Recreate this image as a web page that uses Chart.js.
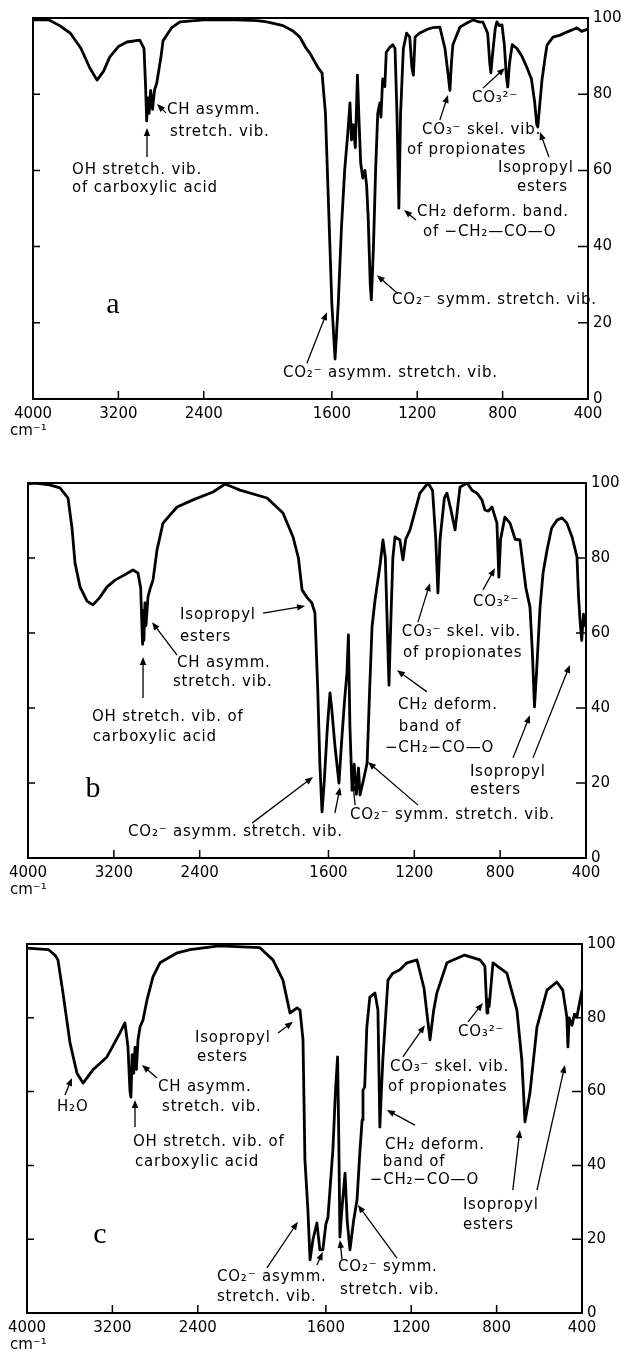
<!DOCTYPE html>
<html lang="en">
<head>
<meta charset="UTF-8">
<title>IR spectra a, b, c</title>
<style>
    body { margin: 0; background: #fff; }
    .page { position: relative; width: 625px; height: 1358px; overflow: hidden; background: #fff; }
    .page canvas { position: absolute; left: 0; }
</style>
</head>
<body>
<div class="page">
    <canvas id="specA" width="625" height="455" style="top:0px"></canvas>
    <canvas id="specB" width="625" height="449" style="top:465px"></canvas>
    <canvas id="specC" width="625" height="432" style="top:926px"></canvas>
</div>

<script src="https://cdn.jsdelivr.net/npm/chart.js"></script>
<script>
// ---- spectrum a: wavenumber (cm-1) / transmittance (%) ----
const waveA = [4000,3850,3750,3650,3550,3470,3400,3340,3280,3200,
    3120,3000,2960,2945,2935,2925,2912,2898,2880,2862,
    2840,2800,2782,2700,2623,2400,2100,1950,1904,1829,
    1780,1750,1720,1703,1680,1665,1646,1630,1615,1600,
    1585,1570,1555,1540,1525,1515,1508,1500,1490,1480,
    1474,1465,1455,1445,1437,1430,1420,1415,1405,1395,
    1385,1375,1370,1362,1352,1345,1330,1315,1304,1295,
    1286,1278,1265,1250,1235,1225,1218,1210,1190,1154,
    1126,1094,1070,1055,1047,1040,1033,1000,967,939,
    910,892,870,860,855,848,835,827,815,803,
    792,782,776,768,755,733,710,686,665,650,
    640,635,628,615,600,592,564,530,499,470,
    452,430,405,400];
const transA = [99.5,99.5,98,96,92,87,83.7,86,89.8,92.5,
    93.7,94.2,92,82,73,79,75,81,76,81,
    83,90,94,97.5,99,99.5,99.5,99.3,99,98,
    96.5,95,92,90.8,88.5,87,85.6,75,50,25,
    10.5,25,45,60,70,77.7,68,72,66,85,
    75,62,58,60,56,48,30,26,40,60,
    75,77.7,74,84,82,91,92.2,93,92,75,
    50.1,75,92,96,95,87,85,95,96,97,
    97.5,97.6,92,85,81,88,93,97.6,98.7,99.5,
    99,98.9,96,88,85.6,90,97,99,98,98.2,
    93,84.5,81.9,88,93,92,90,87,84,78,
    72,71.4,76,84,90,92.9,95,95.5,96.3,97,
    97.4,96.5,97,97];

// ---- spectrum b ----
const waveB = [4000,3935,3800,3702,3627,3590,3562,3515,3450,3394,
    3330,3264,3189,3100,3022,2975,2950,2938,2932,2928,
    2920,2910,2900,2882,2860,2835,2798,2742,2611,2462,
    2276,2164,2100,2025,1886,1812,1765,1740,1723,1700,
    1677,1663,1650,1640,1630,1620,1605,1593,1585,1570,
    1551,1540,1525,1514,1507,1500,1490,1480,1470,1460,
    1453,1440,1420,1408,1397,1383,1360,1346,1335,1325,
    1318,1310,1300,1290,1267,1253,1240,1220,1174,1136,
    1115,1100,1090,1080,1060,1048,1030,1010,995,987,
    954,930,908,885,871,855,838,815,806,798,
    778,754,730,708,680,661,650,640,630,614,
    600,582,560,535,512,489,465,442,435,428,
    420,412,405,400];
const transB = [99.8,100,99.5,98.7,96,88,78.7,72.3,68.5,67.5,
    69.5,72.3,74.1,75.5,76.8,76,72,61.6,57,66,
    58,68,62,69.6,72,74.1,82.1,89.3,93.6,95.5,
    97.6,99.7,99,98.1,96,92,85.6,80,71.5,69.5,
    68,65.3,45,25,12.3,20,35,44,40,30,
    20,30,42,49.3,59.5,35,18.1,25,17,24,
    16.8,20,25.3,45,61.6,68.8,78,84.8,80,60,
    46.1,62,80,85.6,84.8,79.5,85,87.5,97.3,100,
    98,85,70.7,85,96,97.3,93,87.5,95,98.9,
    100,98,97.3,95.5,92.8,92.5,93.6,89.3,74.9,85,
    90.9,89.3,85,84.8,72,66.9,55,40.3,50,67,
    76,82,88,90.1,90.7,89.3,85.6,80.3,70,63.5,
    58,65,62,63];

// ---- spectrum c ----
const waveC = [4000,3800,3738,3710,3663,3597,3532,3475,3382,3251,
    3129,3082,3054,3035,3026,3015,3000,2988,2975,2960,
    2941,2913,2876,2820,2754,2600,2473,2200,1909,1848,
    1801,1768,1735,1721,1707,1698,1684,1674,1660,1642,
    1628,1614,1600,1590,1567,1555,1545,1540,1534,1525,
    1510,1500,1487,1470,1454,1440,1430,1426,1418,1408,
    1394,1370,1356,1347,1340,1333,1309,1286,1253,1220,
    1173,1140,1112,1095,1080,1033,950,878,855,845,
    841,835,817,752,705,682,667,644,611,564,
    518,490,471,466,460,447,435,424,400];
const transC = [98.9,98.5,97,95.7,86.7,73.2,65,62.3,65.9,69.4,
    75.9,78.6,72.1,60,58.5,70,65,72,66,74,
    77.5,79.4,84.8,91.1,94.9,97.5,98.5,99.5,99,95.7,
    90.2,81.3,82.7,82.1,74,41.5,27.9,14.4,20,24.4,
    17.1,17.1,24,26,44.2,60,69.4,50,20.6,28,
    37.9,25,17.1,25,30.6,44.2,52.3,60.4,61.2,77.5,
    85.6,86.7,82.1,50.4,60,68.6,90.2,92.1,93,94.9,
    95.7,88,74,82,86.7,94.9,97,95.7,94,81.3,
    85,83,94.9,92.1,82.1,68.6,51.8,59.6,77.5,87.5,
    89.7,87.5,80.2,72.1,80,78,81,80.2,87.5];

// axis ticks
const xTickWaves = [4000, 3200, 2400, 1600, 1200, 800, 400];
const xTickLabels = ['4000', '3200', '2400', '1600', '1200', '800', '400'];
const yTickValues = [0, 20, 40, 60, 80, 100];

// labels: [text, wavenumber, %T of the text's left/middle]; arrows: [w1, t1, w2 (head), t2]
const notesA = {
    labels: [
        ['OH stretch. vib.', 3634, 60.1], ['of carboxylic acid', 3634, 55.4],
        ['CH asymm.', 2745, 75.9], ['stretch. vib.', 2717, 70.1],
        ['CO₂⁻ asymm. stretch. vib.', 1829, 6.8],
        ['CO₂⁻ symm. stretch. vib.', 1318, 26],
        ['CH₂ deform. band.', 1201, 49.1], ['of −CH₂—CO—O', 1173, 43.8],
        ['CO₃⁻ skel. vib.', 1178, 70.6], ['of propionates', 1248, 65.4],
        ['CO₃²⁻', 944, 79],
        ['Isopropyl', 822, 60.6], ['esters', 733, 55.6]
    ],
    arrows: [
        [2932, 63.5, 2932, 71.1], [2754, 75.1, 2838, 77.4], [1717, 9.4, 1623, 22.8],
        [1290, 27.6, 1389, 32.5], [1206, 47, 1262, 49.6], [1094, 73.2, 1056, 79.8],
        [892, 81.6, 789, 86.9], [583, 63.5, 625, 70.1]
    ],
    letter: ['a', 3251, 22.6]
};
const notesB = {
    labels: [
        ['Isopropyl', 2583, 64.8], ['esters', 2583, 58.9],
        ['CH asymm.', 2611, 52], ['stretch. vib.', 2649, 46.9],
        ['OH stretch. vib. of', 3404, 37.6], ['carboxylic acid', 3396, 32.3],
        ['CO₂⁻ asymm. stretch. vib.', 3068, 6.9],
        ['CO₂⁻ symm. stretch. vib.', 1500, 11.5],
        ['CH₂ deform.', 1276, 40.8], ['band of', 1272, 34.9], ['−CH₂−CO—O', 1337, 29.3],
        ['CO₃⁻ skel. vib.', 1258, 60.3], ['of propionates', 1253, 54.7],
        ['CO₃²⁻', 927, 68.3],
        ['Isopropyl', 941, 22.9], ['esters', 941, 18.1]
    ],
    arrows: [
        [1905, 65.3, 1709, 67.2], [2611, 54.1, 2844, 62.9], [2928, 42.7, 2928, 53.6],
        [1956, 9.3, 1672, 21.6], [1570, 12, 1546, 18.9], [1476, 14.1, 1486, 20],
        [1183, 14.1, 1416, 25.6], [1141, 44.3, 1281, 50.1], [1183, 62.9, 1127, 73.3],
        [880, 71.5, 824, 77.3], [740, 26.7, 661, 38.1], [647, 26.7, 475, 51.5]
    ],
    letter: ['b', 3394, 16.3]
};
const notesC = {
    labels: [
        ['H₂O', 3719, 55.8],
        ['CH asymm.', 2773, 61.2], ['stretch. vib.', 2735, 55.8],
        ['OH stretch. vib. of', 3007, 46.3], ['carboxylic acid', 2988, 40.9],
        ['Isopropyl', 2426, 74.5], ['esters', 2407, 69.4],
        ['CO₂⁻ asymm.', 2220, 9.8], ['stretch. vib.', 2220, 4.3],
        ['CO₂⁻ symm.', 1543, 12.5], ['stretch. vib.', 1534, 6.2],
        ['CH₂ deform.', 1323, 45.5], ['band of', 1333, 40.9], ['−CH₂−CO—O', 1394, 36],
        ['CO₃⁻ skel. vib.', 1300, 66.7], ['of propionates', 1309, 61.2],
        ['CO₃²⁻', 981, 76.2],
        ['Isopropyl', 958, 29.3], ['esters', 958, 23.8]
    ],
    arrows: [
        [3644, 59.1, 3578, 63.7], [2782, 63.7, 2923, 67.2], [2988, 50.4, 2988, 57.7],
        [1824, 75.9, 1754, 78.9], [1876, 12.2, 1731, 24.7], [1642, 13, 1614, 16.5],
        [1524, 14.4, 1534, 19.8], [1267, 14.9, 1450, 29.3], [1183, 50.9, 1314, 55],
        [1239, 69.4, 1136, 78], [934, 78.9, 864, 84], [724, 33.3, 691, 49.6],
        [611, 33.3, 480, 67.2]
    ],
    letter: ['c', 3316, 19]
};

// the abscissa doubles its scale below 2000 cm-1
function toAxis(w) {
    return w >= 2000 ? (4000 - w) / 800 : 2.5 + (2000 - w) / 400;
}

const FONT = '"DejaVu Sans", sans-serif';

function drawArrow(ctx, x1, y1, x2, y2) {
    const ang = Math.atan2(y2 - y1, x2 - x1);
    ctx.beginPath();
    ctx.moveTo(x1, y1);
    ctx.lineTo(x2 - 5 * Math.cos(ang), y2 - 5 * Math.sin(ang));
    ctx.stroke();
    ctx.beginPath();
    ctx.moveTo(x2, y2);
    ctx.lineTo(x2 - 8 * Math.cos(ang) + 3.2 * Math.sin(ang), y2 - 8 * Math.sin(ang) - 3.2 * Math.cos(ang));
    ctx.lineTo(x2 - 8 * Math.cos(ang) - 3.2 * Math.sin(ang), y2 - 8 * Math.sin(ang) + 3.2 * Math.cos(ang));
    ctx.closePath();
    ctx.fill();
}

function decorPlugin(notes) {
    return {
        id: 'decor',
        afterDatasetsDraw(chart) {
            const { ctx, chartArea: a, scales: { x, y } } = chart;
            const px = w => x.getPixelForValue(toAxis(w));
            const py = t => y.getPixelForValue(t);
            ctx.save();
            ctx.strokeStyle = '#000';
            ctx.fillStyle = '#000';

            // frame
            ctx.lineWidth = 2;
            ctx.strokeRect(a.left, a.top, a.right - a.left, a.bottom - a.top);

            // inward tick marks
            ctx.lineWidth = 1.5;
            ctx.beginPath();
            yTickValues.slice(1, -1).forEach(v => {
                ctx.moveTo(a.left, py(v)); ctx.lineTo(a.left + 7, py(v));
                ctx.moveTo(a.right, py(v)); ctx.lineTo(a.right - 10, py(v));
            });
            xTickWaves.slice(1, -1).forEach(w => {
                ctx.moveTo(px(w), a.bottom); ctx.lineTo(px(w), a.bottom - 8);
            });
            ctx.stroke();

            // band assignments
            ctx.font = '15px ' + FONT;
            ctx.letterSpacing = '0.8px';
            ctx.textBaseline = 'middle';
            ctx.textAlign = 'left';
            notes.labels.forEach(([t, w, v]) => ctx.fillText(t, px(w), py(v)));
            ctx.lineWidth = 1.3;
            notes.arrows.forEach(([w1, v1, w2, v2]) => drawArrow(ctx, px(w1), py(v1), px(w2), py(v2)));
            ctx.letterSpacing = '0px';

            // panel letter
            ctx.font = '30px "Liberation Serif", serif';
            ctx.textAlign = 'center';
            ctx.textBaseline = 'alphabetic';
            ctx.fillText(notes.letter[0], px(notes.letter[1]), py(notes.letter[2]));

            // unit
            ctx.font = '15px ' + FONT;
            ctx.textAlign = 'left';
            ctx.textBaseline = 'middle';
            ctx.fillText('cm⁻¹', 10, a.bottom + 32);
            ctx.restore();
        }
    };
}

function makeSpectrum(id, waves, trans, frame, notes) {
    const points = waves.map((w, i) => ({ x: toAxis(w), y: trans[i] }));
    return new Chart(document.getElementById(id), {
        type: 'line',
        data: {
            datasets: [{
                data: points,
                borderColor: '#000',
                borderWidth: 2.8,
                borderJoinStyle: 'round',
                pointRadius: 0,
                tension: 0,
                fill: false
            }]
        },
        options: {
            responsive: false,
            animation: false,
            layout: { padding: { left: frame.left, top: frame.top, right: 0, bottom: 0 } },
            plugins: { legend: { display: false }, tooltip: { enabled: false } },
            scales: {
                x: {
                    type: 'linear',
                    min: 0,
                    max: toAxis(400),
                    afterBuildTicks: s => { s.ticks = xTickWaves.map(w => ({ value: toAxis(w) })); },
                    afterFit: s => { s.height = frame.axisH; },
                    grid: { display: false, drawTicks: false },
                    border: { display: false },
                    ticks: {
                        autoSkip: false, maxRotation: 0, padding: 6, color: '#000',
                        font: { family: FONT, size: 15 },
                        callback: (v, i) => xTickLabels[i]
                    }
                },
                y: {
                    position: 'right',
                    min: 0,
                    max: 100,
                    afterBuildTicks: s => { s.ticks = yTickValues.map(v => ({ value: v })); },
                    afterFit: s => { s.width = frame.axisW; },
                    grid: { display: false, drawTicks: false },
                    border: { display: false },
                    ticks: { padding: 5, color: '#000', font: { family: FONT, size: 15 } }
                }
            }
        },
        plugins: [decorPlugin(notes)]
    });
}

makeSpectrum('specA', waveA, transA, { left: 33, top: 18, axisW: 37, axisH: 56 }, notesA);
makeSpectrum('specB', waveB, transB, { left: 28, top: 18, axisW: 39, axisH: 56 }, notesB);
makeSpectrum('specC', waveC, transC, { left: 27, top: 18, axisW: 43, axisH: 45 }, notesC);
</script>
</body>
</html>
